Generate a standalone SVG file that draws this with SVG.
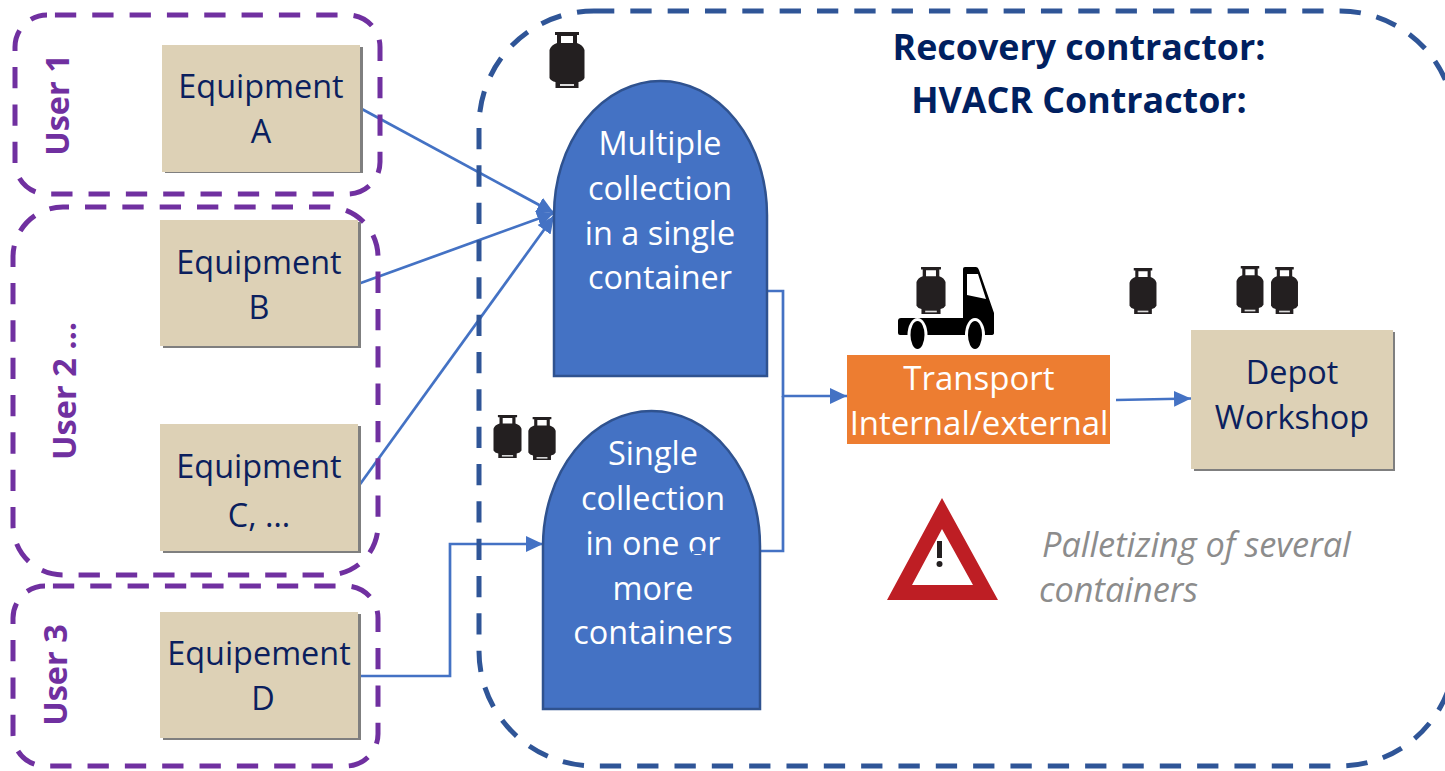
<svg xmlns="http://www.w3.org/2000/svg" width="1445" height="771" viewBox="0 0 1445 771">
<style>
text{font-family:"Open Sans","Noto Sans","Liberation Sans",sans-serif;font-size:32.4px;text-anchor:middle}
.equip{fill:#DDD1B6}
.shadow{fill:#7f7f7f}
.navy{fill:#0B1F5E}
.white{fill:#fff}
.user{fill:none;stroke:#7030A0;stroke-width:5;stroke-dasharray:21.3 16.03;stroke-dashoffset:29.4}
.ulabel{fill:#7030A0;font-weight:700;font-size:32.5px}
.big{fill:none;stroke:#2F5597;stroke-width:5;stroke-dasharray:21.3 16.03;stroke-dashoffset:1}
.dome{fill:#4472C4;stroke:#2F528F;stroke-width:2.5}
.conn{fill:none;stroke:#4472C4;stroke-width:2.7}
.title{fill:#002060;font-weight:700;font-size:35.800px}
.note{fill:#8C8C8C;font-style:italic;font-size:34.300px;text-anchor:start}
.tr{font-size:33px}
</style>
<defs>
<marker id="arrow" markerUnits="userSpaceOnUse" markerWidth="18" markerHeight="18" refX="17" refY="9" orient="auto"><path d="M0,1 L17,9 L0,17 Z" fill="#4472C4"/></marker>
<g id="cyl">
<path fill-rule="evenodd" fill="#231F20" d="M-12,0 H12 V3 H10 V11 Q16,13 17.500,18 V46 Q16,49 11.500,50 V56 H-11.500 V50 Q-16,49 -17.500,46 V18 Q-16,13 -10,11 V3 H-12 Z M-6,4 V11 H6 V4 Z"/>
<rect x="-7" y="52" width="14" height="2" fill="#ddd"/>
</g>
</defs>

<g id="connectors">
<path class="conn" d="M360,108 L554,213" marker-end="url(#arrow)"/>
<path class="conn" d="M358,284 L554,213" marker-end="url(#arrow)"/>
<path class="conn" d="M358,487 L554,216" marker-end="url(#arrow)"/>
<path class="conn" d="M358,676 H450 V544 H543" marker-end="url(#arrow)"/>
<path class="conn" d="M767,291 H783 V396 H847" marker-end="url(#arrow)"/>
<path class="conn" d="M760,551 H783 V396"/>
<path class="conn" d="M1116,400 L1191,398.500" marker-end="url(#arrow)"/>
</g>

<g id="user1"><rect class="user" x="15" y="15" width="365" height="179" rx="32"/><text class="ulabel" transform="translate(69,105) rotate(-90)">User 1</text></g>
<g id="user2"><rect class="user" x="13" y="207" width="365" height="368" rx="50" style="stroke-dashoffset:15.3"/><text class="ulabel" transform="translate(76,391) rotate(-90)">User 2 …</text></g>
<g id="user3"><rect class="user" x="13" y="586" width="365" height="180" rx="32"/><text class="ulabel" transform="translate(67,675) rotate(-90)">User 3</text></g>
<g id="recovery"><rect class="big" x="479" y="11" width="976" height="755" rx="115"/>
<text class="title" x="1079" y="60">Recovery contractor:</text>
<text class="title" x="1079" y="113">HVACR Contractor:</text></g>

<g id="equipA"><rect class="shadow" x="165" y="47" width="198" height="126"/><rect class="equip" x="162" y="45" width="198" height="127"/><text class="navy" x="261" y="98">Equipment</text><text class="navy" x="261" y="143">A</text></g>
<g id="equipB"><rect class="shadow" x="163" y="222" width="198" height="126"/><rect class="equip" x="160" y="220" width="198" height="126"/><text class="navy" x="259" y="274">Equipment</text><text class="navy" x="259" y="319">B</text></g>
<g id="equipC"><rect class="shadow" x="163" y="426" width="198" height="127"/><rect class="equip" x="160" y="424" width="198" height="127"/><text class="navy" x="259" y="478">Equipment</text><text class="navy" x="259" y="527">C, …</text></g>
<g id="equipD"><rect class="shadow" x="163" y="614" width="198" height="126"/><rect class="equip" x="160" y="612" width="198" height="126"/><text class="navy" x="259" y="665">Equipement</text><text class="navy" x="263" y="710">D</text></g>

<g id="multiple"><path class="dome" d="M554,376 V215 A106.500,134 0 0 1 767,215 V376 Z"/>
<text class="white" x="660" y="155">Multiple</text><text class="white" x="660" y="200">collection</text><text class="white" x="660" y="245">in a single</text><text class="white" x="660" y="289">container</text></g>
<g id="single"><path class="dome" d="M543,709 V546 A108.500,135 0 0 1 760,546 V709 Z"/>
<text class="white" x="653" y="465">Single</text><text class="white" x="653" y="510">collection</text><text class="white" x="653" y="555">in one or</text><text class="white" x="653" y="600">more</text><text class="white" x="653" y="644">containers</text>
<rect x="692" y="551" width="12" height="3" fill="#4472C4"/></g>

<g id="transport"><rect x="847" y="355" width="263" height="89" fill="#ED7D31"/><text class="white tr" x="979" y="390">Transport</text><text class="white tr" x="979" y="435">Internal/external</text></g>
<g id="depot"><rect class="shadow" x="1194" y="332" width="201" height="139"/><rect class="equip" x="1191" y="330" width="202" height="139"/><text class="navy" x="1292" y="384">Depot</text><text class="navy" x="1292" y="429">Workshop</text></g>

<g id="cylinders">
<use href="#cyl" x="567" y="32"/>
<use href="#cyl" transform="translate(507.500,415) scale(.8,.77)"/>
<use href="#cyl" transform="translate(542,417) scale(.78,.77)"/>
<use href="#cyl" transform="translate(1143,268) scale(.77,.82)"/>
<use href="#cyl" transform="translate(1250,266) scale(.77,.84)"/>
<use href="#cyl" transform="translate(1284.500,267) scale(.77,.84)"/>
</g>
<g id="truck">
<path fill="#000" fill-rule="evenodd" d="M965,267 H976 Q978,267 979,270 L994,313 V333 Q994,335 991,335 H900 Q898,335 898,333 V321 Q898,318 901,318 H963 V269 Q963,267 965,267 Z M967,274 V295 L986,299 L978,274 Z"/>
<ellipse cx="917.500" cy="335" rx="10" ry="17" fill="#fff"/>
<ellipse cx="975" cy="335" rx="10" ry="17" fill="#fff"/>
<ellipse cx="917.500" cy="335" rx="7" ry="14" fill="#000"/>
<ellipse cx="975" cy="335" rx="7" ry="14" fill="#000"/>
<use href="#cyl" transform="translate(931,267) scale(.83,.84)"/>
</g>
<g id="warning">
<path fill="#BE1E24" fill-rule="evenodd" d="M942,498 L998,600 H887 Z M942,529 L912,585 H973 Z"/>
<rect x="937" y="541" width="5" height="17" fill="#231F20"/><circle cx="939.500" cy="564" r="3" fill="#231F20"/>
</g>
<g id="note"><text class="note" x="1042" y="557">Palletizing of several</text><text class="note" x="1039" y="602">containers</text></g>
</svg>
